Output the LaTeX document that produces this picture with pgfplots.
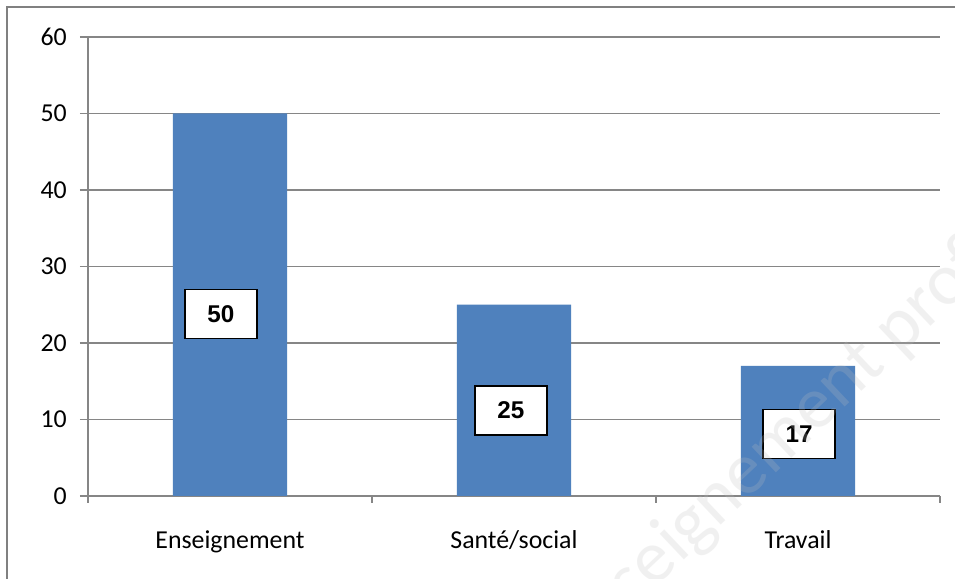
\documentclass[border=0pt]{standalone}
\usepackage{fontspec}
\setmainfont{Carlito}
\newfontfamily\arialfont{Liberation Sans}
\usepackage{pgfplots}
\pgfplotsset{compat=1.18}
\definecolor{barblue}{HTML}{4F81BD}
\definecolor{gridgray}{HTML}{868686}
\definecolor{framegray}{HTML}{808080}

\begin{document}
\begin{tikzpicture}
% canvas: 955 x 579 px at 0.02cm per px, axis box at origin
\useasboundingbox (-1.76,-1.66) rectangle (17.34,9.92);
\clip (-1.76,-1.66) rectangle (17.34,9.92);
\fill[white] (-1.76,-1.66) rectangle (17.34,9.92);
\draw[framegray, line width=1.3pt] (-1.62,-2) -- (-1.62,9.78) -- (18,9.78);
\begin{axis}[
    at={(0,0)}, anchor=south west,
    scale only axis,
    width=17.04cm, height=9.18cm,
    xmin=-0.5, xmax=2.5, ymin=0, ymax=60,
    ytick={0,10,...,60},
    xtick={0,1,2},
    xticklabels={Enseignement,Santé/social,Travail},
    minor xtick={-0.5,0.5,1.5,2.5},
    axis x line=bottom, axis y line=left,
    axis line style={-, gridgray, line width=0.9pt},
    ymajorgrids,
    grid style={gridgray, line width=0.6pt},
    tick align=outside,
    major tick length=0.16cm,
    minor tick length=0.14cm,
    tick style={gridgray, line width=0.8pt},
    major x tick style={draw=none},
    ticklabel style={font=\fontsize{14.7}{17}\selectfont, text=black},
    /pgf/number format/assume math mode=true,
    yticklabel style={xshift=-0.14cm},
    xticklabel style={anchor=base, yshift=-0.9cm},
    clip=false,
]
\addplot[ybar, bar width=2.28cm, fill=barblue, draw=none] coordinates {(0,50) (1,25) (2,17)};
\addplot[draw=none, mark=none, nodes near coords, point meta=explicit symbolic,
    every node near coord/.style={anchor=center, draw=black, line width=0.8pt, fill=white,
        minimum width=1.44cm, minimum height=0.98cm, inner sep=0pt,
        font=\arialfont\bfseries\fontsize{13.8}{15}\selectfont}]
    coordinates {(-0.032,23.8)[50] (0.989,11.2)[25] (2.004,8.1)[17]};
\end{axis}
% watermark
\node[rotate=43.4, text=gray!50, opacity=0.22, inner sep=0pt, font=\fontsize{42}{42}\selectfont, anchor=west] at (9.52,-3.02) {enseignement professionnel};
\end{tikzpicture}
\end{document}
